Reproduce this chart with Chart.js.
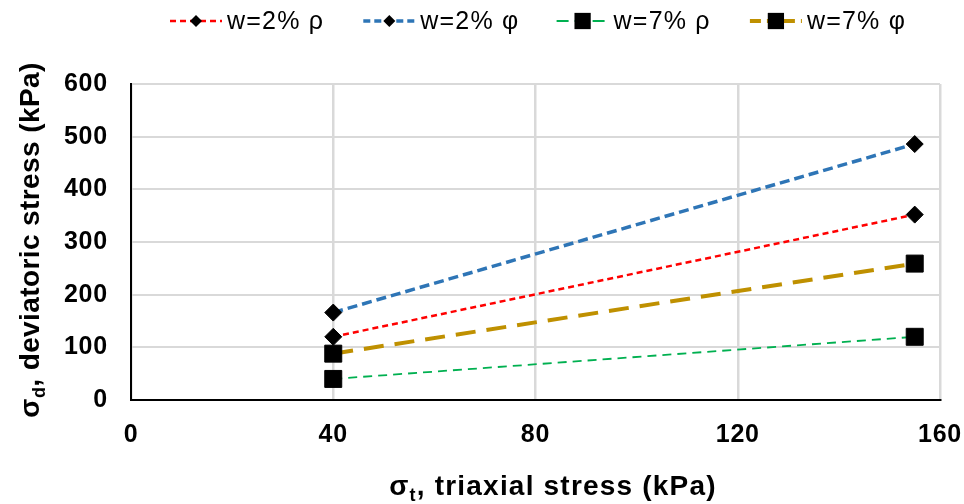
<!DOCTYPE html>
<html>
<head>
<meta charset="utf-8">
<script src="https://cdn.jsdelivr.net/npm/chart.js@4.4.1/dist/chart.umd.min.js"></script>
<style>
  html, body { margin: 0; padding: 0; background: #ffffff; }
  #wrap { width: 964px; height: 504px; position: relative; }
</style>
</head>
<body>
<div id="wrap"><canvas id="c" width="964" height="504"></canvas></div>
<script>
// ---- data ----
const xValues = [40, 155];
const rho2 = [120, 352];   // w=2% ρ
const phi2 = [166, 486];   // w=2% φ
const rho7 = [40, 120];    // w=7% ρ
const phi7 = [88, 259];    // w=7% φ
const seriesLabels = ['w=2% ρ', 'w=2% φ', 'w=7% ρ', 'w=7% φ'];
const xTicks = [0, 40, 80, 120, 160];
const yTicks = [0, 100, 200, 300, 400, 500, 600];

const FONT = '"Liberation Sans", Arial, sans-serif';

function pts(ys) { return xValues.map((x, i) => ({ x: x, y: ys[i] })); }

const styles = [
  { color: '#FF0000', width: 2.5, dash: [6, 4], point: 'rectRot', r: 8.5, legR: 6, legDash: [6, 4] },
  { color: '#2E75B6', width: 3.5, dash: [10, 5], point: 'rectRot', r: 8.5, legR: 6, legDash: [7, 4] },
  { color: '#00B050', width: 1.8, dash: [9, 6], point: 'rect', r: 12, legR: 11.5, legDash: [12, 6] },
  { color: '#BF9000', width: 4, dash: [20, 11], point: 'rect', r: 12, legR: 11.5, legDash: [11, 6] }
];
const seriesData = [rho2, phi2, rho7, phi7];

const datasets = seriesData.map((d, i) => ({
  label: seriesLabels[i],
  data: pts(d),
  showLine: true,
  borderColor: styles[i].color,
  borderWidth: styles[i].width,
  borderDash: styles[i].dash,
  pointStyle: styles[i].point,
  pointRadius: styles[i].r,
  pointHoverRadius: styles[i].r,
  pointBackgroundColor: '#000000',
  pointBorderColor: '#000000',
  pointBorderWidth: 1,
  fill: false,
  tension: 0
}));

// slightly wider text spacing for tick labels
const spacingPlugin = {
  id: 'spacing',
  beforeDraw(chart) { chart.ctx.letterSpacing = '0.8px'; },
  afterDraw(chart) { chart.ctx.letterSpacing = '0px'; }
};

// custom legend with line + marker samples
const legendPlugin = {
  id: 'customLegend',
  afterDraw(chart) {
    const ctx = chart.ctx;
    ctx.save();
    const y = 21;
    const startX = 170, stride = 193.3;
    seriesLabels.forEach((lab, i) => {
      const s = styles[i];
      const x0 = startX + i * stride;
      ctx.strokeStyle = s.color;
      ctx.lineWidth = s.width;
      ctx.setLineDash(s.legDash);
      ctx.beginPath();
      ctx.moveTo(x0, y);
      ctx.lineTo(x0 + 52, y);
      ctx.stroke();
      ctx.setLineDash([]);
      const cx = x0 + 26;
      ctx.fillStyle = '#000';
      ctx.beginPath();
      if (s.point === 'rectRot') {
        ctx.moveTo(cx, y - s.legR);
        ctx.lineTo(cx + s.legR, y);
        ctx.lineTo(cx, y + s.legR);
        ctx.lineTo(cx - s.legR, y);
      } else {
        const h = s.legR * Math.SQRT1_2;
        ctx.rect(cx - h, y - h, 2 * h, 2 * h);
      }
      ctx.closePath();
      ctx.fill();
      ctx.letterSpacing = '1.2px';
      ctx.font = '25px ' + FONT;
      ctx.fillStyle = '#000';
      ctx.textBaseline = 'middle';
      ctx.textAlign = 'left';
      ctx.fillText(lab, x0 + 57, y + 1);
    });
    ctx.restore();
  }
};

// axis titles with subscripts
function drawSubTitle(ctx, main, sub, rest, cx, baseY, spacing) {
  const bf = 'bold 28px ' + FONT;
  const sf = 'bold 18px ' + FONT;
  ctx.letterSpacing = spacing;
  ctx.font = bf; const w1 = ctx.measureText(main).width;
  ctx.font = sf; const w2 = ctx.measureText(sub).width;
  ctx.font = bf; const w3 = ctx.measureText(rest).width;
  let x = cx - (w1 + w2 + w3) / 2;
  ctx.textAlign = 'left';
  ctx.textBaseline = 'alphabetic';
  ctx.font = bf; ctx.fillText(main, x, baseY); x += w1;
  ctx.font = sf; ctx.fillText(sub, x, baseY + 6); x += w2;
  ctx.font = bf; ctx.fillText(rest, x, baseY);
}
const titlePlugin = {
  id: 'axisTitles',
  afterDraw(chart) {
    const ctx = chart.ctx;
    ctx.save();
    ctx.fillStyle = '#000';
    drawSubTitle(ctx, 'σ', 't', ', triaxial stress (kPa)', 553, 495, '1.2px');
    ctx.translate(39, 240);
    ctx.rotate(-Math.PI / 2);
    drawSubTitle(ctx, 'σ', 'd', ', deviatoric stress (kPa)', 0, 0, '0.4px');
    ctx.restore();
  }
};

new Chart(document.getElementById('c'), {
  type: 'scatter',
  data: { datasets: datasets },
  plugins: [spacingPlugin, legendPlugin, titlePlugin],
  options: {
    responsive: false,
    animation: false,
    events: [],
    layout: { padding: { top: 84, right: 24, left: 0, bottom: 0 } },
    plugins: { legend: { display: false }, tooltip: { enabled: false }, title: { display: false } },
    scales: {
      x: {
        type: 'linear',
        min: xTicks[0], max: xTicks[xTicks.length - 1],
        afterBuildTicks(scale) { scale.ticks = xTicks.map(v => ({ value: v })); },
        afterFit(scale) { scale.height = 104; scale.paddingLeft = 0; scale.paddingRight = 0; },
        grid: { color: '#D9D9D9', lineWidth: 2.5, drawTicks: false },
        border: { color: '#000000', width: 2 },
        ticks: { color: '#000', padding: 20, font: { family: FONT, size: 25, weight: 'bold' } }
      },
      y: {
        type: 'linear',
        min: yTicks[0], max: yTicks[yTicks.length - 1],
        afterBuildTicks(scale) { scale.ticks = yTicks.map(v => ({ value: v })); },
        afterFit(scale) { scale.width = 131; },
        grid: { color: '#D9D9D9', lineWidth: 2, drawTicks: false },
        border: { color: '#000000', width: 2 },
        ticks: { color: '#000', padding: 23, font: { family: FONT, size: 25, weight: 'bold' } }
      }
    }
  }
});
</script>
</body>
</html>
